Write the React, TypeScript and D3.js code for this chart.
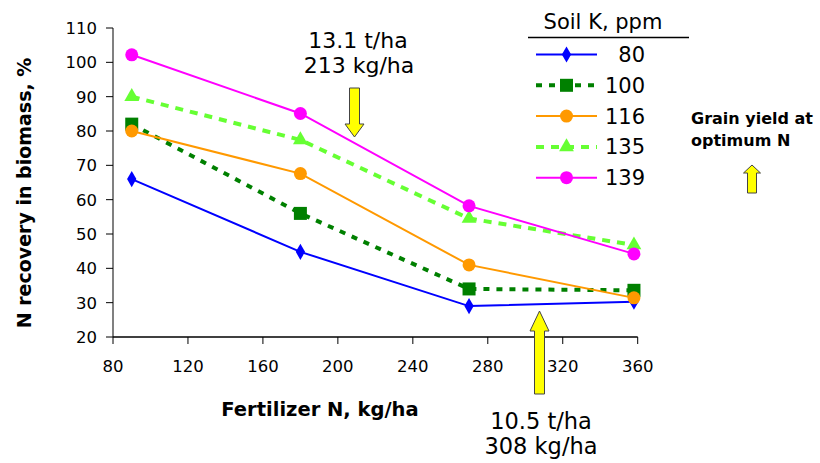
import React from "react";
import * as d3 from "d3";

const nRates = [90, 180, 270, 358];
const xTicks = [80, 120, 160, 200, 240, 280, 320, 360];
const yTicks = [20, 30, 40, 50, 60, 70, 80, 90, 100, 110];
const k80 = [66, 44.8, 29, 30.3];
const k100 = [82, 56, 34, 33.6];
const k116 = [80, 67.6, 41, 31.4];
const k135 = [90, 77.4, 54.5, 46.8];
const k139 = [102.2, 85.1, 58.2, 44.2];
const legendLabels = ["80", "100", "116", "135", "139"];

const FONT = "'DejaVu Sans', sans-serif";

type S = { label: string; values: number[]; color: string; dash?: string; width: number; marker: string };

const series: S[] = [
  { label: "80", values: k80, color: "#0000FF", width: 2, marker: "diamond" },
  { label: "100", values: k100, color: "#008000", width: 4, dash: "6,7", marker: "square" },
  { label: "116", values: k116, color: "#FF9900", width: 2, marker: "circle" },
  { label: "135", values: k135, color: "#66FF33", width: 4, dash: "8,7", marker: "triangle" },
  { label: "139", values: k139, color: "#FF00FF", width: 2, marker: "circle" },
];

function Marker({ type, x, y, color }: { type: string; x: number; y: number; color: string }) {
  if (type === "diamond") {
    const s = d3.symbol(d3.symbolDiamond, 75)();
    return <path d={s || ""} transform={`translate(${x},${y})`} fill={color} />;
  }
  if (type === "square") return <rect x={x - 6.5} y={y - 6.5} width={13} height={13} fill={color} />;
  if (type === "triangle") {
    const s = d3.symbol(d3.symbolTriangle, 95)();
    return <path d={s || ""} transform={`translate(${x},${y})`} fill={color} />;
  }
  return <circle cx={x} cy={y} r={6.5} fill={color} />;
}

function Arrow({ x, yTip, yTail, shaft, head, headLen }: { x: number; yTip: number; yTail: number; shaft: number; head: number; headLen: number }) {
  const dir = yTail > yTip ? 1 : -1;
  const yb = yTip + dir * headLen;
  const pts = [
    [x, yTip],
    [x + head / 2, yb],
    [x + shaft / 2, yb],
    [x + shaft / 2, yTail],
    [x - shaft / 2, yTail],
    [x - shaft / 2, yb],
    [x - head / 2, yb],
  ];
  return <polygon points={pts.map((p) => p.join(",")).join(" ")} fill="#FFFF00" stroke="#444" strokeWidth={1} />;
}

export default function App() {
  const x = d3.scaleLinear().domain([80, 360]).range([113, 637.7]);
  const y = d3.scaleLinear().domain([20, 110]).range([337, 28]);
  const line = d3
    .line<number>()
    .x((_, i) => x(nRates[i]))
    .y((d) => y(d));

  const legendX0 = 536;
  const legendX1 = 597;
  const legendRowY = (i: number) => 54.5 + i * 30.8;

  return (
    <svg width={820} height={463} style={{ position: "absolute", left: 0, top: 0, background: "#fff" }} fontFamily={FONT}>
      {/* axes */}
      <line x1={113} y1={y(110)} x2={113} y2={y(20)} stroke="#808080" strokeWidth={2} />
      <line x1={113} y1={y(20)} x2={x(360)} y2={y(20)} stroke="#000" strokeWidth={1.5} />
      {yTicks.map((t) => (
        <g key={"y" + t}>
          <line x1={106} x2={113} y1={y(t)} y2={y(t)} stroke="#000" strokeWidth={1} />
          <text x={97} y={y(t)} dy="0.36em" textAnchor="end" fontSize={16.5}>
            {t}
          </text>
        </g>
      ))}
      {xTicks.map((t) => (
        <g key={"x" + t}>
          <line x1={x(t)} x2={x(t)} y1={y(20)} y2={y(20) + 7} stroke="#000" strokeWidth={1} />
          <text x={x(t)} y={372} textAnchor="middle" fontSize={16.5}>
            {t}
          </text>
        </g>
      ))}
      <text x={320} y={416} textAnchor="middle" fontSize={19.5} fontWeight="bold">
        Fertilizer N, kg/ha
      </text>
      <text transform="translate(31,193) rotate(-90)" textAnchor="middle" fontSize={19} fontWeight="bold">
        N recovery in biomass, %
      </text>

      {/* series */}
      {series.map((s) => (
        <g key={s.label}>
          <path d={line(s.values) || ""} fill="none" stroke={s.color} strokeWidth={s.width} strokeDasharray={s.dash} />
          {s.values.map((v, i) => (
            <Marker key={i} type={s.marker} x={x(nRates[i])} y={y(v)} color={s.color} />
          ))}
        </g>
      ))}

      {/* legend */}
      <text x={603} y={29} textAnchor="middle" fontSize={21}>
        Soil K, ppm
      </text>
      <line x1={528} x2={689} y1={37.5} y2={37.5} stroke="#000" strokeWidth={1.5} />
      {series.map((s, i) => (
        <g key={"l" + s.label}>
          <line x1={legendX0} x2={legendX1} y1={legendRowY(i)} y2={legendRowY(i)} stroke={s.color} strokeWidth={s.width} strokeDasharray={s.dash} />
          <Marker type={s.marker} x={(legendX0 + legendX1) / 2} y={legendRowY(i)} color={s.color} />
          <text x={645} y={legendRowY(i)} dy="0.36em" textAnchor="end" fontSize={21}>
            {legendLabels[i]}
          </text>
        </g>
      ))}

      {/* annotations */}
      <text x={358} y={48} textAnchor="middle" fontSize={22}>
        13.1 t/ha
      </text>
      <text x={359} y={73} textAnchor="middle" fontSize={22}>
        213 kg/ha
      </text>
      <Arrow x={354.5} yTip={137} yTail={88} shaft={10} head={19} headLen={13} />

      <Arrow x={539.5} yTip={311} yTail={394} shaft={10} head={19} headLen={20} />
      <text x={541} y={429} textAnchor="middle" fontSize={22.5}>
        10.5 t/ha
      </text>
      <text x={541} y={454} textAnchor="middle" fontSize={22.5}>
        308 kg/ha
      </text>

      <text x={691} y={124} fontSize={16} fontWeight="bold">
        Grain yield at
      </text>
      <text x={691} y={146} fontSize={16} fontWeight="bold">
        optimum N
      </text>
      <Arrow x={752} yTip={165} yTail={193} shaft={9} head={17} headLen={8} />
    </svg>
  );
}
